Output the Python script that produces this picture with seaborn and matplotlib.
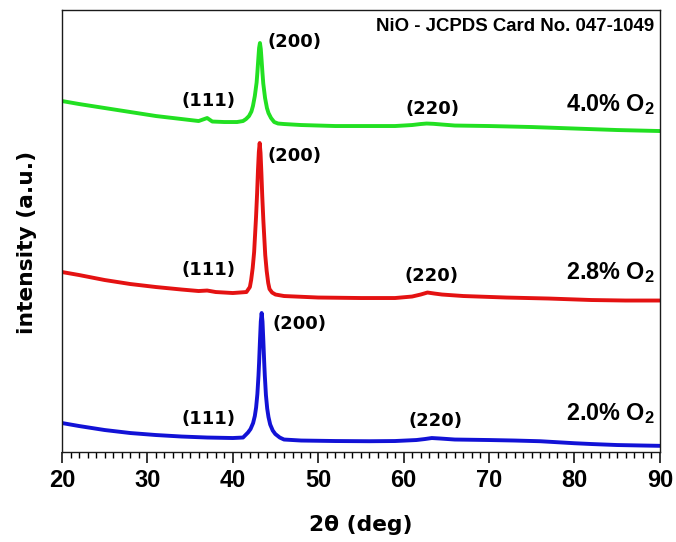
import matplotlib
matplotlib.use("Agg")
import matplotlib.pyplot as plt
from matplotlib.ticker import MultipleLocator
import pandas as pd
import seaborn as sns

# XRD patterns of NiO films grown at different O2 partial pressures
# (stacked, arbitrary intensity units)
two_theta_20 = [20, 22, 25, 28, 31, 34, 37, 40, 41.2, 41.78, 42.08, 42.38, 42.58, 42.73,
                42.88, 43.01, 43.08, 43.18, 43.28, 43.38, 43.48, 43.58, 43.68, 43.75, 43.88,
                44.03, 44.18, 44.38, 44.68, 44.98, 45.5, 46,
                48, 52, 56, 59, 61.5, 62.5, 63.3, 64.3, 66, 70, 73, 76, 78, 80, 82, 85, 88, 90]
intensity_20 = [29, 26, 22, 19, 17, 15.5, 14.5, 14, 14.5, 19.5, 23, 29, 36, 44.5,
                58, 76.5, 89.4, 110.8, 130.5, 139, 130.5, 110.8, 89.4, 76.5, 57,
                43.5, 35, 27.5, 21.5, 18, 14.5, 12.5,
                11.5, 11, 10.8, 11, 12, 13, 14, 13.5, 12.5, 12, 11.5, 10.8, 9.8, 8.8, 8, 7, 6.5, 6.2]

two_theta_28 = [20, 22, 25, 28, 31, 34, 36, 37, 38, 40, 41.6, 42.0, 42.15, 42.33, 42.5,
                42.72, 42.85, 42.95, 43.05, 43.15, 43.25, 43.35, 43.45, 43.58, 43.8, 43.97,
                44.15, 44.3, 44.6, 45.0, 46,
                50, 55, 59, 61, 62, 62.8, 63.6, 64.5, 67, 72, 77, 82, 86, 90]
intensity_28 = [180, 177, 172, 168, 165, 162.5, 161, 161.5, 160, 159, 160, 165, 172, 184, 200,
                234.5, 259, 282, 300, 309, 299, 279, 256, 231.5, 197, 181,
                169, 163, 159.5, 157.5, 156,
                154.5, 154, 154, 155.5, 157.5, 159.5, 158.5, 157.5, 156, 154.5, 153.5, 152, 151.5, 151.5]

two_theta_40 = [20, 22, 25, 28, 31, 34, 36, 37, 37.6, 39, 40.5, 41.2, 41.55, 41.9, 42.18,
                42.36, 42.58, 42.79, 42.88, 42.98, 43.08, 43.18, 43.28, 43.38, 43.48, 43.57,
                43.78, 44.0, 44.18, 44.48, 44.85, 45.3, 46,
                48, 52, 56, 59, 61, 62, 62.7, 63.5, 64.5, 66, 70, 75, 80, 85, 90]
intensity_40 = [351, 348, 344, 340, 336, 333, 331, 334, 330.5, 330, 330, 331, 333, 336, 340.5,
                346, 356, 369.5, 379.5, 392, 404, 409, 403, 391, 378.5, 368.5,
                354, 344, 339, 334, 330, 328.5, 328,
                327, 326, 326, 326, 327, 328, 328.5, 328.2, 327.5, 326.5, 326, 325, 323.5, 322, 321]

sample_labels = ["2.0% O2", "2.8% O2", "4.0% O2"]
curve_labels = [r"2.0% O$_{\mathbf{2}}$", r"2.8% O$_{\mathbf{2}}$", r"4.0% O$_{\mathbf{2}}$"]
colors = ["#1212D6", "#E41212", "#22E022"]

# Miller-index labels: (text, 2theta, intensity) per pattern
hkl_20 = [("(111)", 37.1, 33), ("(200)", 44.6, 128), ("(220)", 63.7, 31)]
hkl_28 = [("(111)", 37.1, 182), ("(200)", 44.1, 296), ("(220)", 63.3, 176)]
hkl_40 = [("(111)", 37.1, 351), ("(200)", 44.1, 410), ("(220)", 63.4, 343)]
curve_label_y = [38, 179, 347]
card_text = "NiO - JCPDS Card No. 047-1049"

df = pd.concat([
    pd.DataFrame({"two_theta": two_theta_20, "intensity": intensity_20, "sample": sample_labels[0]}),
    pd.DataFrame({"two_theta": two_theta_28, "intensity": intensity_28, "sample": sample_labels[1]}),
    pd.DataFrame({"two_theta": two_theta_40, "intensity": intensity_40, "sample": sample_labels[2]}),
], ignore_index=True)

sns.set_style("ticks")
plt.rcParams["font.family"] = ["Liberation Sans", "DejaVu Sans"]
plt.rcParams["font.weight"] = "bold"
plt.rcParams["text.color"] = "black"
plt.rcParams["axes.labelcolor"] = "black"
plt.rcParams["xtick.color"] = "black"
plt.rcParams["mathtext.fontset"] = "custom"
plt.rcParams["mathtext.rm"] = "Liberation Sans:bold"
plt.rcParams["mathtext.bf"] = "Liberation Sans:bold"
plt.rcParams["mathtext.it"] = "Liberation Sans:bold"

wide_font = ["DejaVu Sans"]

fig = plt.figure(figsize=(6.76, 5.42), dpi=100)
ax = fig.add_axes([0.0917, 0.166, 0.8843, 0.8155])

sns.lineplot(data=df, x="two_theta", y="intensity", hue="sample",
             palette=dict(zip(sample_labels, colors)), estimator=None,
             linewidth=2.8, legend=False, ax=ax)

ax.set_xlim(20, 90)
ax.set_ylim(0, 442)
ax.xaxis.set_major_locator(MultipleLocator(10))
ax.xaxis.set_minor_locator(MultipleLocator(1))
ax.set_yticks([])
ax.tick_params(axis="x", which="major", direction="out", length=8, width=1.1,
               labelsize=17, pad=4, colors="black")
ax.tick_params(axis="x", which="minor", direction="out", length=4.5, width=1.0)
for lab in ax.get_xticklabels():
    lab.set_fontweight("bold")
for sp in ax.spines.values():
    sp.set_visible(True)
    sp.set_linewidth(1.0)
    sp.set_color("#1a1a1a")

ax.set_xlabel(r"2θ (deg)", fontsize=15.7, fontweight="bold", family=wide_font, labelpad=17)
ax.set_ylabel("intensity (a.u.)", fontsize=15.7, fontweight="bold", family=wide_font)
ax.yaxis.set_label_coords(-0.042, 0.475)

for hkl in (hkl_20, hkl_28, hkl_40):
    for text, tx, ty in hkl:
        ha = "left" if text == "(200)" else "center"
        ax.text(tx, ty, text, fontsize=13, fontweight="bold", family=wide_font,
                ha=ha, va="center")

for lab, ly in zip(curve_labels, curve_label_y):
    ax.text(89.4, ly, lab, fontsize=16.8, fontweight="bold", ha="right", va="center")

ax.text(89.4, 426, card_text, fontsize=13.4, fontweight="bold", ha="right", va="center")

fig.savefig("out.png", dpi=100)
